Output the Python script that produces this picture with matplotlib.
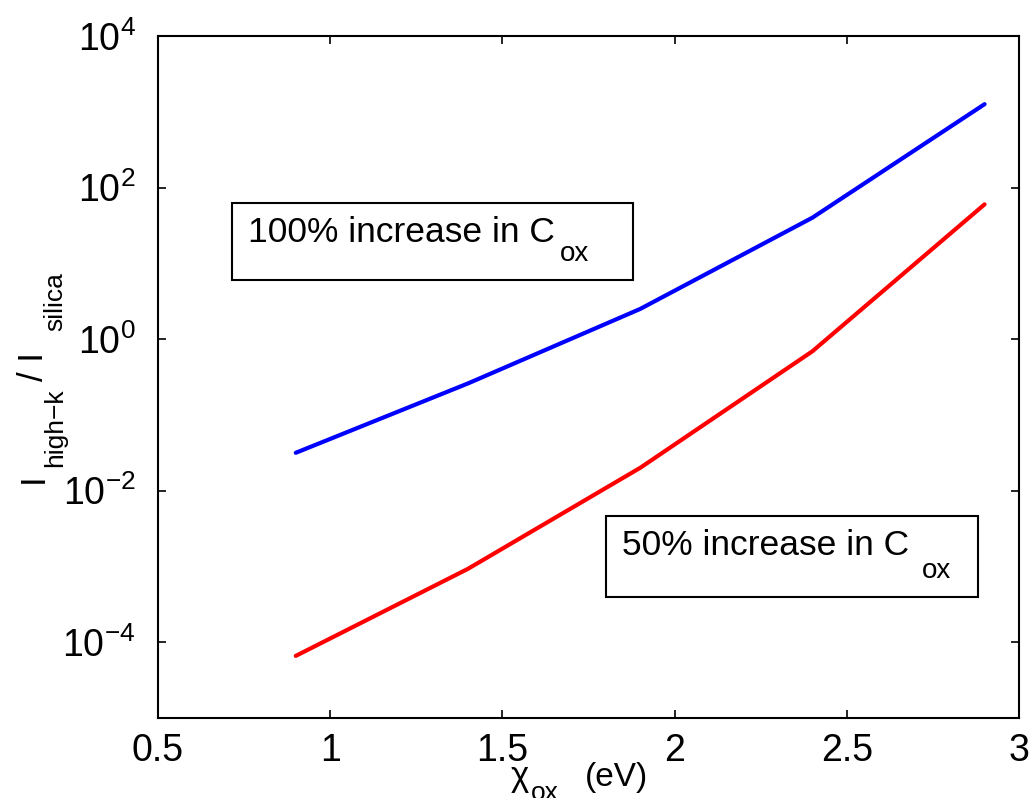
import numpy as np
import matplotlib
matplotlib.use('Agg')
from matplotlib import pyplot as plt
from matplotlib.ticker import NullLocator
from matplotlib.patches import Rectangle

plt.rcParams['font.family'] = ['Liberation Sans', 'DejaVu Sans']
plt.rcParams['mathtext.fontset'] = 'custom'
plt.rcParams['mathtext.rm'] = 'Liberation Sans'
plt.rcParams['mathtext.it'] = 'Liberation Sans:italic'
plt.rcParams['mathtext.bf'] = 'Liberation Sans:bold'

# electron affinity of the oxide (eV)
chiOx = [0.9, 1.4, 1.9, 2.4, 2.9]
# current ratio I_high-k / I_silica
ratio100 = [0.0316, 0.26, 2.5, 40.0, 1260.0]
ratio50 = [6.6e-5, 9.3e-4, 0.020, 0.69, 60.0]

xTicks = [0.5, 1, 1.5, 2, 2.5, 3]
xTickLabels = ['0.5', '1', '1.5', '2', '2.5', '3']
yTicks = [1e-4, 1e-2, 1e0, 1e2, 1e4]
yTickLabels = [r'$10^{-4}$', r'$10^{-2}$', r'$10^{0}$', r'$10^{2}$', r'$10^{4}$']

W, H = 1029, 798
fig = plt.figure(figsize=(W/100, H/100), dpi=100)
ax = fig.add_axes([158/W, 80/H, 861/W, 682/H])

ax.plot(chiOx, ratio100, color='#0000ff', linewidth=3.0, solid_capstyle='round')
ax.plot(chiOx, ratio50, color='#ff0000', linewidth=3.0, solid_capstyle='round')

ax.set_yscale('log')
ax.set_xlim(0.5, 3)
ax.set_ylim(1e-5, 1e4)
ax.set_xticks(xTicks)
ax.set_xticklabels(xTickLabels)
ax.set_yticks(yTicks)
ax.set_yticklabels(yTickLabels)
ax.yaxis.set_minor_locator(NullLocator())
ax.tick_params(direction='in', length=6, width=1.2, labelsize=27, top=True, right=True)
ax.tick_params(axis='x', pad=11)
ax.tick_params(axis='y', pad=16)
for s in ax.spines.values():
    s.set_linewidth(1.5)

# annotation boxes (axes fraction), text with a dropped subscript like the original
def boxedLabel(box, mainText, mainPos, subPos):
    ax.add_patch(Rectangle(box[:2], box[2], box[3], transform=ax.transAxes,
                           facecolor='white', edgecolor='black', linewidth=1.5, zorder=3))
    ax.text(mainPos[0], mainPos[1], mainText, transform=ax.transAxes, fontsize=25.5,
            ha='left', va='baseline', zorder=4)
    ax.text(subPos[0], subPos[1], 'ox', transform=ax.transAxes, fontsize=20,
            ha='left', va='baseline', zorder=4)

boxedLabel((0.086, 0.642, 0.466, 0.113), '100% increase in C', (0.1045, 0.698), (0.467, 0.670))
boxedLabel((0.520, 0.177, 0.432, 0.119), '50% increase in C', (0.539, 0.239), (0.887, 0.205))

# y label built from pieces, rotated, reading bottom to top
def figText(x, y, s, size, rot=0):
    fig.text(x/W, 1 - y/H, s, fontsize=size, rotation=rot, rotation_mode='anchor',
             ha='left', va='baseline')

figText(43, 483, 'I', 25, 90)
figText(62, 467, 'high\u2212k', 19, 90)
figText(43, 381, '/ I', 25, 90)
figText(62, 331, 'silica', 19, 90)

# x label
figText(511, 786, '\u03c7', 25)
figText(531, 800, 'ox', 19)
figText(585, 786, '(eV)', 24)

fig.savefig('out.png', dpi=100)
